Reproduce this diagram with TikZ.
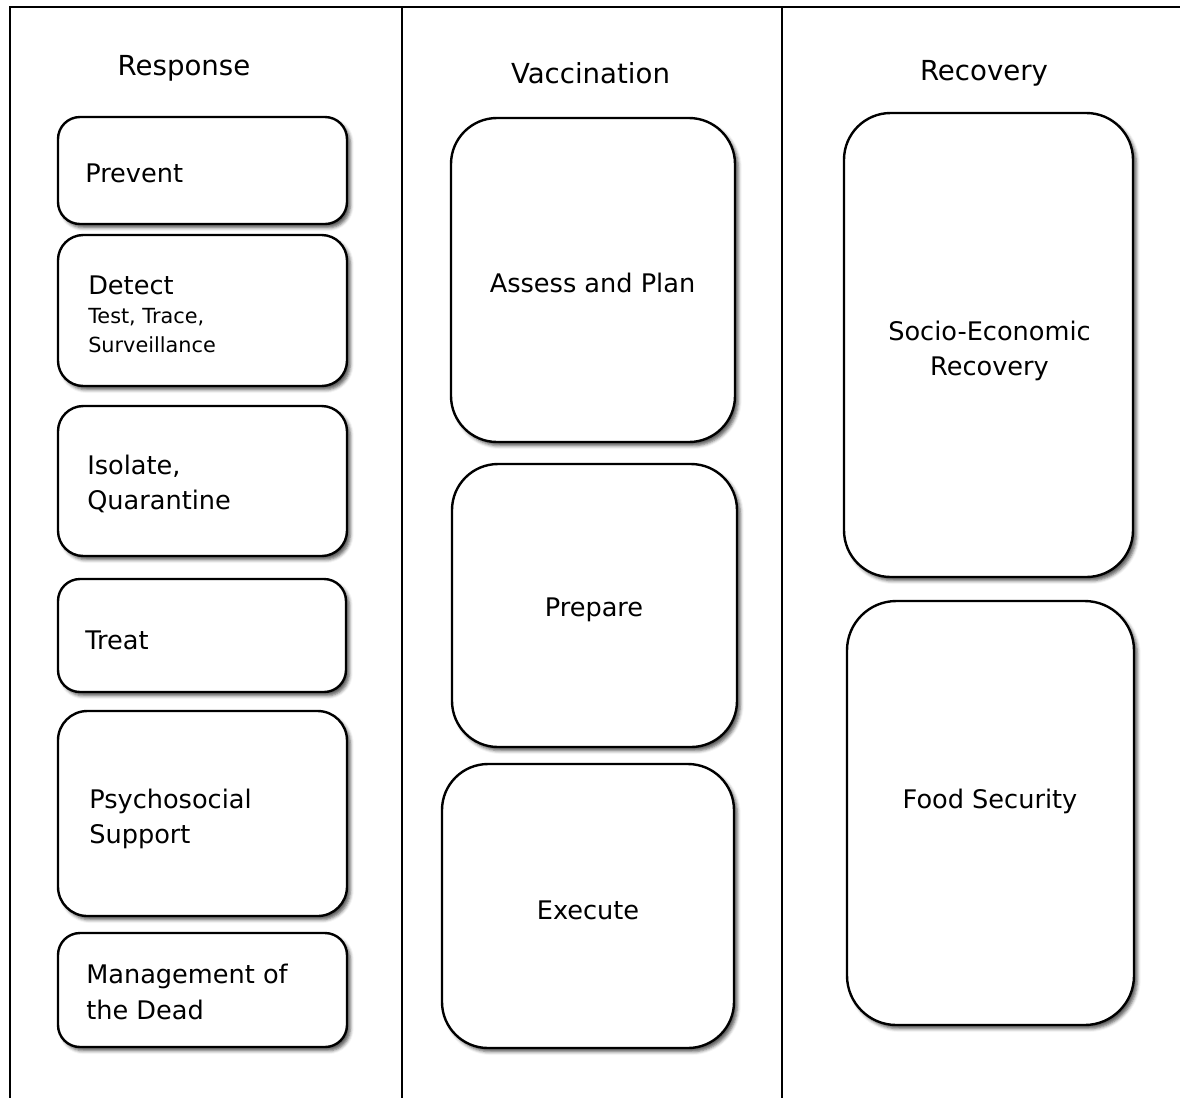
\documentclass[tikz,border=0pt]{standalone}
\usepackage{fontspec}
\setmainfont{DejaVu Sans}
\usetikzlibrary{shadows.blur}
\tikzset{
  rbox/.style={draw=black, line width=1.8pt, fill=white, inner sep=0pt, rounded corners=#1,
    blur shadow={shadow xshift=2.5pt, shadow yshift=-2.8pt, shadow blur radius=2.5pt, shadow opacity=65}},
  frame/.style={line width=2.1pt, line cap=rect},
  hd/.style={anchor=base, inner sep=0pt, font=\fontsize{20.7pt}{25pt}\selectfont},
  tl/.style={anchor=base west, inner sep=0pt, font=\fontsize{19.2pt}{26pt}\selectfont},
  tc/.style={anchor=base, inner sep=0pt, font=\fontsize{19.2pt}{26pt}\selectfont},
  ts/.style={anchor=base west, inner sep=0pt, font=\fontsize{15.6pt}{20pt}\selectfont},
}
\newcommand\rbx[6]{\node[rbox=#6, minimum width={(#4-#2)*0.75pt}, minimum height={(#5-#3)*0.75pt}] (#1) at ({(#2+#4)/2},{(#3+#5)/2}) {};}
\begin{document}
\begin{tikzpicture}[x=0.75pt, y=-0.75pt]
\useasboundingbox (0,0) rectangle (1180,1097);
% frame
\coordinate (fa) at (10,1097);
\coordinate (fb) at (10,7);
\coordinate (fc) at (1180,7);
\coordinate (g1) at (402,7);
\coordinate (g2) at (402,1097);
\coordinate (h1) at (782,7);
\coordinate (h2) at (782,1097);
\draw[frame] (fa) -- (fb) -- (fc);
\draw[frame] (g1) -- (g2);
\draw[frame] (h1) -- (h2);
% headings
\node[hd] (hresp) at (184,75) {Response};
\node[hd] (hvacc) at (590.5,83) {Vaccination};
\node[hd] (hreco) at (984,80) {Recovery};
% response boxes
\rbx{prevent}{58}{117}{347}{224}{16.5pt}
\rbx{detect}{58}{235}{347}{386}{19pt}
\rbx{isolate}{58}{406}{347}{556}{19pt}
\rbx{treat}{58}{579}{346}{692}{16.5pt}
\rbx{psycho}{58}{711}{347}{916}{22pt}
\rbx{manage}{58}{933}{347}{1047}{16.5pt}
% vaccination boxes
\rbx{assess}{451}{118}{735}{442}{34.5pt}
\rbx{prepare}{452}{464}{737}{747}{34.5pt}
\rbx{execute}{442}{764}{734}{1048}{34.5pt}
% recovery boxes
\rbx{socio}{844}{113}{1133}{577}{35pt}
\rbx{food}{847}{601}{1134}{1025}{37pt}
% texts
\node[tl] (tprev) at (85,182) {Prevent};
\node[tl] (tdet) at (88,294) {Detect};
\node[ts] (tdet2) at (88,323) {Test, Trace,};
\node[ts] (tdet3) at (88,352) {Surveillance};
\node[tl] (tiso) at (87,474) {Isolate,};
\node[tl] (tiso2) at (87,509) {Quarantine};
\node[tl] (ttreat) at (85,649) {Treat};
\node[tl] (tpsy) at (89,808) {Psychosocial};
\node[tl] (tpsy2) at (89,843) {Support};
\node[tl] (tman) at (86,983) {Management of};
\node[tl] (tman2) at (86,1019) {the Dead};
\node[tc] (tass) at (592.5,292) {Assess and Plan};
\node[tc] (tprep) at (594,616) {Prepare};
\node[tc] (texec) at (588,919) {Execute};
\node[tc] (tsoc) at (989.5,340) {Socio-Economic};
\node[tc] (tsoc2) at (989.5,375) {Recovery};
\node[tc] (tfood) at (990,808) {Food Security};
\end{tikzpicture}
\end{document}
